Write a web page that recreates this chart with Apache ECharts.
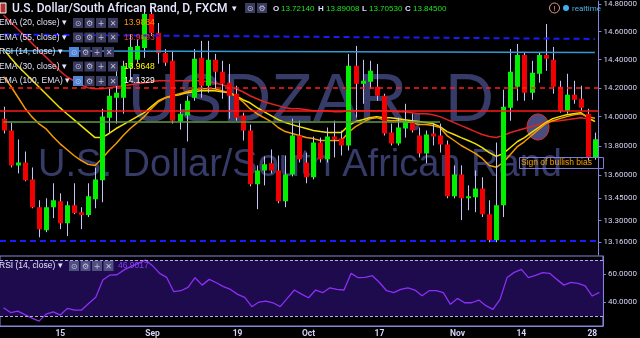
<!DOCTYPE html>
<html><head><meta charset="utf-8">
<script src="https://cdn.jsdelivr.net/npm/echarts@6/dist/echarts.min.js"></script>
<style>html,body{margin:0;padding:0;background:#000;}#c{width:640px;height:338px;}</style>
</head><body><div id="c"></div>
<script>
const dates = ['2016-08-03','2016-08-04','2016-08-05','2016-08-08','2016-08-09','2016-08-10','2016-08-11','2016-08-12','2016-08-15','2016-08-16','2016-08-17','2016-08-18','2016-08-19','2016-08-22','2016-08-23','2016-08-24','2016-08-25','2016-08-26','2016-08-29','2016-08-30','2016-08-31',
'2016-09-01','2016-09-02','2016-09-05','2016-09-06','2016-09-07','2016-09-08','2016-09-09','2016-09-12','2016-09-13','2016-09-14','2016-09-15','2016-09-16','2016-09-19','2016-09-20','2016-09-21','2016-09-22','2016-09-23','2016-09-26','2016-09-27','2016-09-28','2016-09-29','2016-09-30',
'2016-10-03','2016-10-04','2016-10-05','2016-10-06','2016-10-07','2016-10-10','2016-10-11','2016-10-12','2016-10-13','2016-10-14','2016-10-17','2016-10-18','2016-10-19','2016-10-20','2016-10-21','2016-10-24','2016-10-25','2016-10-26','2016-10-27','2016-10-28','2016-10-31',
'2016-11-01','2016-11-02','2016-11-03','2016-11-04','2016-11-07','2016-11-08','2016-11-09','2016-11-10','2016-11-11','2016-11-14','2016-11-15','2016-11-16','2016-11-17','2016-11-18','2016-11-21','2016-11-22','2016-11-23','2016-11-24','2016-11-25','2016-11-28','2016-11-29'];
const tickLabels = {'2016-08-15':'15','2016-09-01':'Sep','2016-09-19':'19','2016-10-03':'Oct','2016-10-17':'17','2016-11-01':'Nov','2016-11-14':'14','2016-11-28':'28'};
const opens = [13.986,13.904,13.667,13.687,13.573,13.388,13.237,13.388,13.427,13.283,
13.401,13.355,13.336,13.440,13.567,13.993,14.131,14.131,14.341,14.398,
14.482,14.727,14.590,14.447,14.391,13.966,14.007,14.131,14.412,14.215,
14.398,14.313,14.236,14.159,14.007,13.904,13.540,13.633,13.681,13.633,
13.427,13.606,13.870,13.687,13.587,13.822,13.708,13.863,13.849,13.802,
14.355,14.229,14.243,14.208,14.145,13.891,13.815,13.918,13.959,13.870,
13.748,13.884,13.870,13.809,13.460,13.606,13.447,13.454,13.513,13.342,
13.172,13.401,14.062,14.208,14.433,14.166,14.299,14.433,14.398,14.208,
14.041,14.152,14.124,14.020,13.7214];
const closes = [13.904,13.667,13.687,13.567,13.388,13.244,13.388,13.434,13.283,13.401,
13.349,13.336,13.460,13.573,14.000,14.145,14.166,14.355,14.490,14.497,
14.727,14.590,14.447,14.377,13.972,14.020,14.110,14.405,14.215,14.398,
14.313,14.229,14.145,13.993,13.904,13.540,13.633,13.674,13.633,13.427,
13.606,13.870,13.708,13.587,13.822,13.708,13.863,13.843,13.802,14.355,
14.229,14.250,14.320,14.145,13.884,13.815,13.925,13.972,13.904,13.748,
13.877,13.863,13.809,13.460,13.606,13.447,13.460,13.513,13.342,13.172,
13.401,14.069,14.313,14.433,14.166,14.306,14.433,14.405,14.208,14.041,
14.152,14.117,14.062,13.721,13.845];
const highs = [14.069,13.958,13.843,13.761,13.653,13.434,13.447,13.547,13.480,13.427,
13.547,13.388,13.547,13.653,14.055,14.194,14.320,14.391,14.583,14.547,
14.764,14.785,14.662,14.475,14.461,14.089,14.145,14.475,14.533,14.533,
14.440,14.391,14.369,14.215,14.027,13.945,13.667,13.728,13.775,13.734,
13.734,13.986,13.972,13.754,13.863,13.856,13.925,13.972,13.904,14.440,
14.497,14.398,14.391,14.369,14.159,13.952,13.993,14.089,14.020,13.925,
13.904,13.952,13.952,13.836,13.667,13.667,13.533,13.633,13.587,13.434,
13.822,14.187,14.475,14.511,14.447,14.391,14.447,14.655,14.490,14.250,
14.299,14.250,14.215,14.055,13.89008];
const lows = [13.884,13.654,13.613,13.560,13.381,13.191,13.224,13.316,13.244,13.198,
13.342,13.244,13.323,13.381,13.421,13.884,13.952,14.020,14.250,14.377,
14.412,14.568,14.370,14.355,13.952,13.911,13.829,14.110,14.131,14.166,
14.194,14.124,13.986,13.972,13.836,13.527,13.375,13.533,13.613,13.414,
13.388,13.593,13.687,13.547,13.573,13.687,13.687,13.721,13.734,13.768,
13.993,14.089,14.194,14.110,13.870,13.802,13.802,13.856,13.890,13.721,
13.681,13.802,13.754,13.447,13.447,13.303,13.368,13.355,13.323,13.159,
13.159,13.323,13.972,14.110,14.110,14.117,14.236,14.320,14.159,14.027,
14.020,14.089,14.041,13.701,13.7053];
const ema20 = [14.278,14.215,14.138,14.062,14.000,13.952,13.918,13.863,13.815,13.775,
13.734,13.701,13.674,13.667,13.714,13.768,13.815,13.870,13.918,13.959,
14.000,14.055,14.103,14.131,14.145,14.159,14.173,14.187,14.194,14.194,
14.194,14.180,14.166,14.145,14.103,14.055,14.020,13.993,13.966,13.925,
13.897,13.884,13.870,13.856,13.849,13.836,13.836,13.836,13.836,13.891,
13.931,13.959,13.986,13.993,13.979,13.972,13.972,13.966,13.959,13.945,
13.945,13.938,13.925,13.870,13.836,13.802,13.775,13.748,13.714,13.667,
13.654,13.687,13.741,13.795,13.829,13.870,13.911,13.952,13.972,13.986,
14.000,14.013,14.020,14.000,13.9884];
const ema30 = [14.475,14.412,14.356,14.306,14.257,14.208,14.159,14.110,14.062,14.020,
13.979,13.938,13.897,13.856,13.856,13.884,13.918,13.945,13.972,14.000,
14.027,14.069,14.110,14.131,14.145,14.152,14.166,14.173,14.180,14.180,
14.180,14.173,14.166,14.145,14.117,14.096,14.062,14.034,14.007,13.979,
13.959,13.945,13.931,13.918,13.904,13.897,13.891,13.891,13.891,13.938,
13.966,13.979,13.993,14.000,13.993,13.993,13.986,13.979,13.972,13.966,
13.959,13.952,13.931,13.897,13.877,13.856,13.836,13.815,13.788,13.754,
13.728,13.748,13.788,13.829,13.856,13.891,13.925,13.959,13.986,14.000,
14.013,14.020,14.027,13.993,13.9648];
const ema55 = [14.720,14.669,14.618,14.569,14.519,14.468,14.419,14.370,14.320,14.278,
14.250,14.222,14.201,14.194,14.194,14.201,14.208,14.215,14.222,14.229,
14.236,14.243,14.250,14.250,14.250,14.250,14.250,14.250,14.250,14.243,
14.236,14.222,14.208,14.194,14.173,14.145,14.124,14.103,14.089,14.076,
14.062,14.055,14.055,14.048,14.041,14.041,14.041,14.034,14.034,14.041,
14.041,14.041,14.041,14.041,14.041,14.038,14.034,14.034,14.027,14.020,
14.020,14.013,14.000,13.979,13.959,13.938,13.918,13.897,13.877,13.863,
13.856,13.870,13.891,13.904,13.918,13.931,13.945,13.959,13.966,13.972,
13.979,13.986,13.993,13.986,13.9693];
const rsi14 = [36,32.5,33.5,31,28.5,26.4,31.4,33,30.7,35.5,
34.3,34.3,39,43.5,55.7,59.3,59.5,63,65.5,67.6,
70,66,60.5,57.6,47.4,48.1,50.5,57.4,52.1,56.2,
53.8,51,49,45.5,43.3,36.7,40,40.7,39.5,36.7,
42.6,48.6,45.7,43.1,48.6,46.7,50.2,49,48.6,60.5,
57.4,57.6,58.8,54,48.1,46.7,49,50.2,48.6,44.5,
48.1,48.1,46.7,38.4,42.6,39.5,39.5,41.4,37.4,34.8,
41.9,57.6,61.2,63.3,57.4,59,61,60.5,56.2,52.1,
54,53.4,51.6,44.3,46.9017];
const priceTicks = [14.8,14.6,14.4,14.2,14.0,13.8,13.6,13.45,13.3,13.16];
const rsiTicks = [40,60];
const lastPrice = 13.845;
const levelRedDashed = 14.2, levelRedSolid = 14.035, levelGreen = 13.966, levelBlueLow = 13.169;
const blueTop = [14.579, 14.547];
const lightBlue = [14.462, 14.450];
const greenEndIndex = 62;

const FONT = 'Roboto, "Liberation Sans", Arial, sans-serif';
const NFONT = '"Liberation Sans", Arial, sans-serif';
const AX = '#8585dc', LBL = '#d4d4f6';
const chart = echarts.init(document.getElementById('c'));

function txt(x, y, s, fill, size, weight, fam) {
  return {type:'text', x:x, y:y, z:100, silent:true,
    style:{text:s, fill:fill, fontSize:size, fontFamily:fam||FONT, fontWeight:weight||'normal', verticalAlign:'middle', textVerticalAlign:'middle'}};
}
function box(x, y, glyph, bg) {
  return [{type:'rect', z:100, silent:true, shape:{x:x, y:y, width:10, height:10}, style:{fill:bg||'#3b3b60'}},
    {type:'text', z:101, silent:true, x:x+5, y:y+5.5, style:{text:glyph, fill:'#c0c0e0', fontSize:8, fontFamily:'DejaVu Sans, sans-serif', align:'center', textAlign:'center', verticalAlign:'middle', textVerticalAlign:'middle'}}];
}
const graphics = [];
graphics.push({type:'text', z:0, silent:true, x:311, y:102, style:{text:'USDZAR, D', fill:'#373b68', fontSize:68, fontFamily:NFONT, align:'center', textAlign:'center', verticalAlign:'middle', textVerticalAlign:'middle'}});
graphics.push({type:'text', z:0, silent:true, x:300, y:166, style:{text:'U.S. Dollar/South African Rand', fill:'#373b68', fontSize:38, fontFamily:NFONT, align:'center', textAlign:'center', verticalAlign:'middle', textVerticalAlign:'middle'}});
graphics.push({type:'ellipse', z:1, silent:true, shape:{cx:538, cy:127, rx:11, ry:13}, style:{fill:'#4a4c80', stroke:'#d83030', lineWidth:1}});
graphics.push({type:'rect', z:100, silent:true, shape:{x:519.5, y:157.5, width:84, height:11}, style:{fill:'none', stroke:'#7d7dd6', lineWidth:1}});
graphics.push(txt(521, 163, 'Sign of bullish bias', '#f5a000', 8.5, 'normal', NFONT));
graphics.push({type:'rect', z:100, silent:true, shape:{x:0, y:3, width:6, height:10}, style:{fill:'#b03030', stroke:'#ffffff', lineWidth:1}});
graphics.push(txt(12, 8.5, 'U.S. Dollar/South African Rand, D, FXCM', '#e6e6ff', 12, 500));
graphics.push(txt(232, 8.5, '▾', '#e6e6ff', 9));
graphics.push(...box(245, 3, '⊙'), ...box(257, 3, '⚙'));
graphics.push(txt(273, 8.5, 'O', '#dcdcff', 8, 'bold', NFONT));
graphics.push(txt(281, 8.5, '13.72140', '#1ee61e', 8, 'normal', NFONT));
graphics.push(txt(318, 8.5, 'H', '#dcdcff', 8, 'bold', NFONT));
graphics.push(txt(326, 8.5, '13.89008', '#1ee61e', 8, 'normal', NFONT));
graphics.push(txt(362, 8.5, 'L', '#dcdcff', 8, 'bold', NFONT));
graphics.push(txt(369, 8.5, '13.70530', '#1ee61e', 8, 'normal', NFONT));
graphics.push(txt(405, 8.5, 'C', '#dcdcff', 8, 'bold', NFONT));
graphics.push(txt(413, 8.5, '13.84500', '#1ee61e', 8, 'normal', NFONT));
graphics.push({type:'circle', z:100, silent:true, shape:{cx:554.5, cy:8, r:5}, style:{fill:'none', stroke:'#e09a88', lineWidth:1}});
graphics.push({type:'text', z:100, silent:true, x:554.5, y:8.5, style:{text:'!', fill:'#e09a88', fontSize:8, fontFamily:FONT, align:'center', textAlign:'center', verticalAlign:'middle', textVerticalAlign:'middle'}});
graphics.push({type:'circle', z:100, silent:true, shape:{cx:566, cy:8, r:3}, style:{fill:'#3fb0ee'}});
graphics.push(txt(572, 8.5, 'realtime', '#4ab0e6', 8));
const legendRows = [
  {y:23, label:'EMA (20, close)', val:'13.9884', color:'#ff9800', bx:73, hi:false},
  {y:37.5, label:'EMA (55, close)', val:'13.9693', color:'#e53935', bx:73, hi:false},
  {y:52, label:'RSI (14, close)', val:null, color:null, bx:69, hi:true},
  {y:66.5, label:'EMA (30, close)', val:'13.9648', color:'#ffff00', bx:73, hi:false},
  {y:81, label:'EMA (100, EMA)', val:'14.1329', color:'#ffffff', bx:73, hi:true}
];
legendRows.forEach(r => {
  graphics.push(txt(-1, r.y, r.label + ' ▾', '#e2e2fa', 8.5, 'normal', NFONT));
  graphics.push(...box(r.bx, r.y-5, '⊙', r.hi ? '#4f86d8' : null), ...box(r.bx+11.5, r.y-5, '⚙'), ...box(r.bx+23, r.y-5, '+'), ...box(r.bx+35, r.y-5, '✕'));
  if (r.val) graphics.push(txt(124, r.y, r.val, r.color, 8.5, 'normal', NFONT));
});
graphics.push(txt(-1, 266, 'RSI (14, close) ▾', '#e2e2fa', 8.5, 'normal', NFONT));
graphics.push(...box(69, 261, '⊙', '#4f4f80'), ...box(80.5, 261, '⚙', '#4f4f80'), ...box(92, 261, '+', '#4f4f80'), ...box(103.5, 261, '✕', '#4f4f80'));
graphics.push(txt(118, 266, '46.9017', '#8a3cf5', 8.5, 'normal', NFONT));

function renderCandle(params, api) {
  const i = api.value(0), o = api.value(1), c = api.value(2), l = api.value(3), h = api.value(4);
  const pO = api.coord([i, o]), pC = api.coord([i, c]), pL = api.coord([i, l]), pH = api.coord([i, h]);
  const cx = Math.round(pO[0]);
  const top = Math.min(pO[1], pC[1]), bot = Math.max(pO[1], pC[1]);
  return {type:'group', children:[
    {type:'line', shape:{x1:cx+0.5, y1:pH[1], x2:cx+0.5, y2:pL[1]}, style:{stroke:'#c4c4fa', lineWidth:1}},
    {type:'rect', shape:{x:cx-2, y:top, width:5, height:Math.max(bot-top, 1.5)}, style:{fill: c >= o ? '#00f000' : '#f00000'}}
  ]};
}
const candleData = dates.map((d, i) => [i, opens[i], closes[i], lows[i], highs[i]]);
const lineStyleBase = {type:'line', xAxisIndex:0, yAxisIndex:0, symbol:'none', silent:true, animation:false};

const option = {
  backgroundColor:'#000000',
  animation:false,
  graphic: graphics,
  grid:[
    {left:-2, right:36, top:0, height:255, containLabel:false},
    {left:-2, right:36, top:256, height:70, show:true, borderColor:AX, borderWidth:1, backgroundColor:'transparent'}
  ],
  xAxis:[
    {type:'category', gridIndex:0, data:dates, boundaryGap:true, show:false},
    {type:'category', gridIndex:1, data:dates, boundaryGap:true,
      axisLine:{show:true, lineStyle:{color:AX}}, axisTick:{show:false},
      axisLabel:{color:LBL, fontSize:8.5, fontWeight:'bold', fontFamily:FONT, margin:3,
        interval:(idx, v) => tickLabels.hasOwnProperty(v), formatter:v => tickLabels[v] || ''}}
  ],
  yAxis:[
    {type:'log', gridIndex:0, position:'right', min:13.076, max:14.821, logBase:10,
      axisLine:{show:true, lineStyle:{color:AX}}, splitLine:{show:false},
      axisTick:{show:true, length:3, lineStyle:{color:AX}, customValues:priceTicks},
      axisLabel:{color:LBL, fontSize:8, fontFamily:FONT, margin:5, customValues:priceTicks, formatter:v => Number(v).toFixed(5)}},
    {type:'value', gridIndex:1, position:'right', min:22.9, max:72.9,
      axisLine:{show:true, lineStyle:{color:AX}}, splitLine:{show:false},
      axisTick:{show:true, length:3, lineStyle:{color:AX}, customValues:rsiTicks},
      axisLabel:{color:LBL, fontSize:8, fontFamily:FONT, margin:5, customValues:rsiTicks, formatter:v => Number(v).toFixed(4)}}
  ],
  series:[
    Object.assign({}, lineStyleBase, {name:'EMA55', data:ema55, z:2, lineStyle:{color:'#e02222', width:1.5}}),
    Object.assign({}, lineStyleBase, {name:'EMA30', data:ema30, z:2, lineStyle:{color:'#f2e200', width:1.5}}),
    Object.assign({}, lineStyleBase, {name:'EMA20', data:ema20, z:2, lineStyle:{color:'#f59b00', width:1.5}}),
    {type:'custom', name:'USDZAR', xAxisIndex:0, yAxisIndex:0, z:3, data:candleData, encode:{x:0, y:[1,2,3,4]}, renderItem:renderCandle, clip:true, silent:true},
    Object.assign({}, lineStyleBase, {name:'drawings', data:dates.map(() => null), z:5,
      markLine:{silent:true, symbol:['none','none'], animation:false, z:5, label:{show:false},
        data:[
          [{coord:[0, blueTop[0]], lineStyle:{color:'#1a1aff', width:2, type:[6,4]}}, {coord:[84, blueTop[1]]}],
          [{coord:[0, lightBlue[0]], lineStyle:{color:'#2f9ad6', width:1.5, type:'solid'}}, {coord:[84, lightBlue[1]]}],
          {yAxis:levelRedDashed, lineStyle:{color:'#ff1e1e', width:1.5, type:[5,4]}},
          {yAxis:levelRedSolid, lineStyle:{color:'#ff1a1a', width:1.5, type:'solid'}},
          [{coord:[0, levelGreen], lineStyle:{color:'#5f9a45', width:1.5, type:'solid'}}, {coord:[greenEndIndex, levelGreen]}],
          {yAxis:levelBlueLow, lineStyle:{color:'#1a1aff', width:2, type:[6,4]}},
          {yAxis:lastPrice, lineStyle:{opacity:0}, label:{show:true, position:'end', distance:1, formatter:'13.84500', backgroundColor:'#22dd22', color:'#b6f0b6', fontSize:8, fontFamily:FONT, padding:[2,4,2,3]}}
        ]}}),
    {type:'line', name:'RSI', xAxisIndex:1, yAxisIndex:1, data:rsi14, symbol:'none', silent:true, z:3,
      lineStyle:{color:'#8d2ef5', width:1.3},
      markArea:{silent:true, itemStyle:{color:'#1d0b4e'}, data:[[{yAxis:30}, {yAxis:70}]]},
      markLine:{silent:true, symbol:['none','none'], label:{show:false},
        lineStyle:{color:'#b4aae8', width:1, type:[3,2]}, data:[{yAxis:70}, {yAxis:30}]}}
  ]
};
chart.setOption(option);
</script></body></html>
